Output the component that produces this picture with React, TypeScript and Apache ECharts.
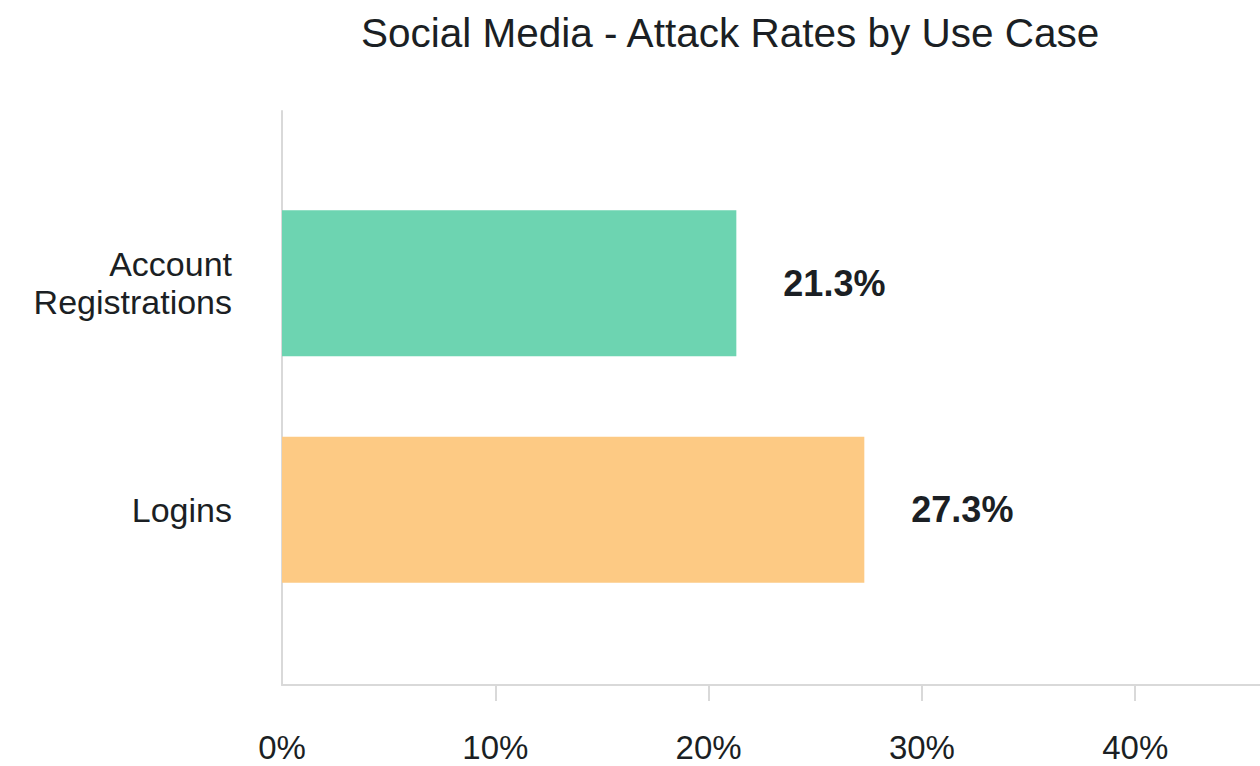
import React, { useEffect, useRef } from "react";
import * as echarts from "echarts";

const title = "Social Media - Attack Rates by Use Case";
const categories = ["Account Registrations", "Logins"];
const values = [21.3, 27.3];
const barColors = ["#6dd4b1", "#fdca84"];
const tickValues = [10, 20, 30, 40];
const labelValues = [0, 10, 20, 30, 40];

const FONT = '"Liberation Sans", Arial, sans-serif';
const TEXT = "#1b1f24";
const AXIS = "#d9d9d9";
const XMAX = 45.85;

export default function App() {
  const ref = useRef<HTMLDivElement>(null);
  useEffect(() => {
    if (!ref.current) return;
    const chart = echarts.init(ref.current, null, { renderer: "svg" });
    chart.setOption({
      animation: false,
      backgroundColor: "#ffffff",
      title: {
        text: title,
        left: 361,
        top: 12,
        padding: 0,
        textStyle: { fontSize: 40.5, fontWeight: "normal", color: TEXT, fontFamily: FONT },
      },
      grid: [
        { left: 282, right: 0, top: 111, bottom: 81 },
        { left: 282, right: 0, top: 170, bottom: 143 },
      ],
      xAxis: [
        {
          type: "value",
          gridIndex: 0,
          min: 0,
          max: XMAX,
          interval: 10,
          axisLine: { show: true, lineStyle: { color: AXIS, width: 2 } },
          axisTick: { show: true, length: 16, lineStyle: { color: AXIS, width: 2 }, customValues: tickValues },
          axisLabel: {
            show: true,
            customValues: labelValues,
            formatter: (v: number) => `${v}%`,
            margin: 46,
            fontSize: 33,
            color: TEXT,
            fontFamily: FONT,
          },
          splitLine: { show: false },
        },
        {
          type: "value",
          gridIndex: 1,
          min: 0,
          max: XMAX,
          interval: 10,
          show: false,
        },
      ],
      yAxis: [
        {
          type: "value",
          gridIndex: 0,
          min: 0,
          max: 1,
          axisLine: { show: true, lineStyle: { color: AXIS, width: 2 } },
          axisTick: { show: false },
          axisLabel: { show: false },
          splitLine: { show: false },
        },
        {
          type: "category",
          gridIndex: 1,
          data: categories,
          inverse: true,
          axisLine: { show: false },
          axisTick: { show: false },
          axisLabel: {
            margin: 50,
            fontSize: 34,
            lineHeight: 38,
            color: TEXT,
            fontFamily: FONT,
            formatter: (v: string) => v.replace(" ", "\n"),
          },
        },
      ],
      series: [
        {
          type: "bar",
          xAxisIndex: 1,
          yAxisIndex: 1,
          barWidth: 146,
          data: values.map((v, i) => ({ value: v, itemStyle: { color: barColors[i] } })),
          label: {
            show: true,
            position: "right",
            distance: 47,
            formatter: (p: any) => `${p.value}%`,
            fontSize: 36,
            fontWeight: "bold",
            color: TEXT,
            fontFamily: FONT,
          },
        },
      ],
    });
    return () => chart.dispose();
  }, []);
  return (
    <div
      ref={ref}
      style={{ position: "fixed", left: 0, top: 0, width: 1260, height: 766 }}
    />
  );
}
